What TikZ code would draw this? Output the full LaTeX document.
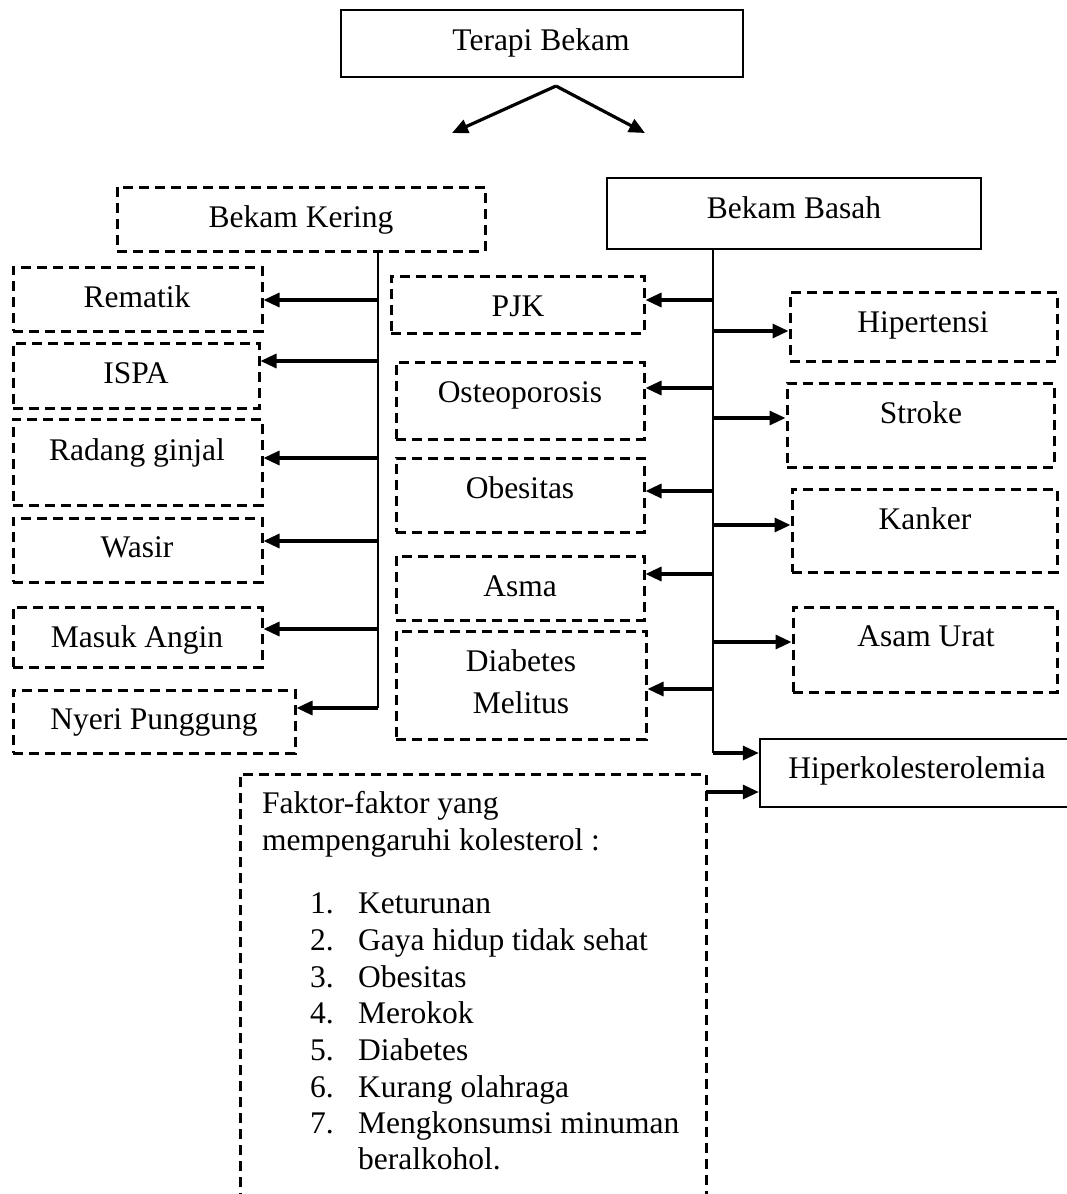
\documentclass[tikz,border=0pt]{standalone}
\usepackage{fontspec}
\setmainfont{Liberation Serif}
\usetikzlibrary{arrows.meta,fit}
\begin{document}
\begin{tikzpicture}[x=1pt,y=-1pt,
  sbox/.style={draw, line width=2.3pt, inner sep=0pt},
  dbox/.style={draw, line width=3pt, dash pattern=on 10pt off 6pt, inner sep=0pt},
  txt/.style={anchor=base, inner sep=0pt, font=\fontsize{31.5}{37}\selectfont},
  ltxt/.style={txt, anchor=base west},
  arr/.style={line width=3.2pt, -{Triangle[length=16pt,width=14pt]}},
  trunk/.style={line width=2.3pt}]
\useasboundingbox (0,0) rectangle (1066,1194);

% ---- top ----
\node[sbox, fit={(341,10) (743,77)}] (terapi) {};
\node[txt] (terapiT) at (541,50) {Terapi Bekam};
\coordinate (apex) at (556,86);
\coordinate (tipL) at (452,133);
\coordinate (tipR) at (645,133);
\draw[arr] (apex) -- (tipL);
\draw[arr] (apex) -- (tipR);

% ---- main branches ----
\node[dbox, fit={(117,187) (485,251)}] (kering) {};
\node[txt] (keringT) at (301,227) {Bekam Kering};
\node[sbox, fit={(607,178) (981,249)}] (basah) {};
\node[txt] (basahT) at (794,218) {Bekam Basah};

% ---- left column ----
\node[dbox, fit={(13,267) (262,331)}] (rematik) {};
\node[txt] (rematikT) at (137,307) {Rematik};
\node[dbox, fit={(13,343) (259,408)}] (ispa) {};
\node[txt] (ispaT) at (136,383) {ISPA};
\node[dbox, fit={(13,419) (262,505)}] (radang) {};
\node[txt] (radangT) at (137,460) {Radang ginjal};
\node[dbox, fit={(13,518) (262,582)}] (wasir) {};
\node[txt] (wasirT) at (137,557) {Wasir};
\node[dbox, fit={(13,607) (262,667)}] (masuk) {};
\node[txt] (masukT) at (137,647) {Masuk Angin};
\node[dbox, fit={(13,690) (295,753)}] (nyeri) {};
\node[txt] (nyeriT) at (154,729) {Nyeri Punggung};

% ---- middle column ----
\node[dbox, fit={(391,276) (644,333)}] (pjk) {};
\node[txt] (pjkT) at (518,316) {PJK};
\node[dbox, fit={(396,362) (644,439)}] (osteo) {};
\node[txt] (osteoT) at (520,402) {Osteoporosis};
\node[dbox, fit={(396,458) (644,532)}] (obes) {};
\node[txt] (obesT) at (520,498) {Obesitas};
\node[dbox, fit={(396,556) (644,620)}] (asma) {};
\node[txt] (asmaT) at (520,596) {Asma};
\node[dbox, fit={(396,631) (646,739)}] (diab) {};
\node[txt] (diabT1) at (521,671) {Diabetes};
\node[txt] (diabT2) at (521,713) {Melitus};

% ---- right column ----
\node[dbox, fit={(790,292) (1057,361)}] (hiper) {};
\node[txt] (hiperT) at (923,332) {Hipertensi};
\node[dbox, fit={(787,383) (1054,467)}] (stroke) {};
\node[txt] (strokeT) at (921,423) {Stroke};
\node[dbox, fit={(792,489) (1057,572)}] (kanker) {};
\node[txt] (kankerT) at (925,529) {Kanker};
\node[dbox, fit={(793,607) (1057,692)}] (asam) {};
\node[txt] (asamT) at (926,646) {Asam Urat};
\node[sbox, fit={(760,739) (1080,807)}] (kol) {};
\node[txt] (kolT) at (917,778) {Hiperkolesterolemia};

% ---- factors box ----
\node[dbox, fit={(240,774) (706,1215)}] (faktor) {};
\node[ltxt] (f0) at (262,813) {Faktor-faktor yang};
\node[ltxt] (f00) at (262,850) {mempengaruhi kolesterol :};
\node[ltxt] (n1) at (310,913) {1.};
\node[ltxt] (i1) at (358,913) {Keturunan};
\node[ltxt] (n2) at (310,950) {2.};
\node[ltxt] (i2) at (358,950) {Gaya hidup tidak sehat};
\node[ltxt] (n3) at (310,987) {3.};
\node[ltxt] (i3) at (358,987) {Obesitas};
\node[ltxt] (n4) at (310,1023) {4.};
\node[ltxt] (i4) at (358,1023) {Merokok};
\node[ltxt] (n5) at (310,1060) {5.};
\node[ltxt] (i5) at (358,1060) {Diabetes};
\node[ltxt] (n6) at (310,1097) {6.};
\node[ltxt] (i6) at (358,1097) {Kurang olahraga};
\node[ltxt] (n7) at (310,1133) {7.};
\node[ltxt] (i7) at (358,1133) {Mengkonsumsi minuman};
\node[ltxt] (i7b) at (358,1169) {beralkohol.};

% ---- left trunk ----
\coordinate (tL0) at (378,251);
\coordinate (tL1) at (378,300);
\coordinate (tL2) at (378,361);
\coordinate (tL3) at (378,458);
\coordinate (tL4) at (378,541);
\coordinate (tL5) at (378,629);
\coordinate (tL6) at (378,708);
\draw[trunk] (tL0) -- (tL6);
\draw[arr] (tL1) -- (rematik.east |- tL1);
\draw[arr] (tL2) -- (ispa.east |- tL2);
\draw[arr] (tL3) -- (radang.east |- tL3);
\draw[arr] (tL4) -- (wasir.east |- tL4);
\draw[arr] (tL5) -- (masuk.east |- tL5);
\draw[arr] (tL6) -- (nyeri.east |- tL6);

% ---- right trunk ----
\coordinate (tR0) at (713,249);
\coordinate (tR1) at (713,300);
\coordinate (tR2) at (713,331);
\coordinate (tR3) at (713,388);
\coordinate (tR4) at (713,418);
\coordinate (tR5) at (713,491);
\coordinate (tR6) at (713,525);
\coordinate (tR7) at (713,574);
\coordinate (tR8) at (713,642);
\coordinate (tR9) at (713,689);
\coordinate (tR10) at (713,753);
\draw[trunk] (tR0) -- (tR10);
\draw[arr] (tR1) -- (pjk.east |- tR1);
\draw[arr] (tR2) -- (hiper.west |- tR2);
\draw[arr] (tR3) -- (osteo.east |- tR3);
\draw[arr] (tR4) -- (stroke.west |- tR4);
\draw[arr] (tR5) -- (obes.east |- tR5);
\draw[arr] (tR6) -- (kanker.west |- tR6);
\draw[arr] (tR7) -- (asma.east |- tR7);
\draw[arr] (tR8) -- (asam.west |- tR8);
\draw[arr] (tR9) -- (diab.east |- tR9);
\draw[arr] (tR10) -- (kol.west |- tR10);

% ---- factors to hiperkolesterolemia ----
\coordinate (fk) at (706,792);
\draw[arr] (fk) -- (kol.west |- fk);
\end{tikzpicture}
\end{document}
